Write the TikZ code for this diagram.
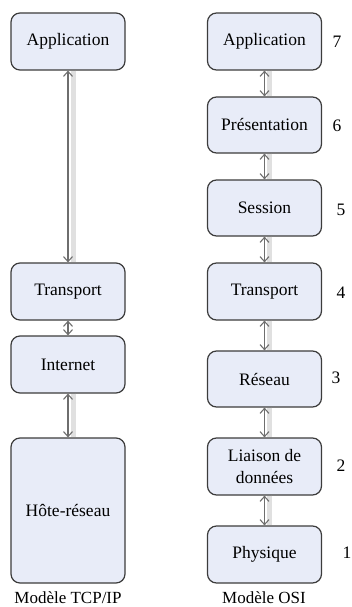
\documentclass[tikz,border=0pt]{standalone}
\usepackage{fontspec}
\setmainfont{Liberation Serif}
\usetikzlibrary{arrows.meta}
\definecolor{boxfill}{HTML}{E8ECF8}
\definecolor{boxline}{HTML}{3C3C3C}
\definecolor{linkgray}{HTML}{6E6E6E}
\definecolor{shadowgray}{HTML}{E0E0E0}
\begin{document}
\begin{tikzpicture}[x=1pt,y=-1pt,
  layer/.style={draw=boxline,line width=1.2pt,fill=boxfill,rounded corners=9pt,
    minimum width=114pt,minimum height=57pt,inner sep=2pt,align=center,
    font=\fontsize{17.5}{22}\selectfont},
  link/.style={draw=linkgray,line width=1.1pt,
    {Straight Barb[length=5pt,width=9pt]}-{Straight Barb[length=5pt,width=9pt]}},
  linkshadow/.style={draw=shadowgray,line width=5pt},
  num/.style={font=\fontsize{17.5}{20}\selectfont},
  caption/.style={font=\fontsize{17}{20}\selectfont}]
\useasboundingbox (0,0) rectangle (352,607);

% TCP/IP model
\node[layer] (tapp) at (68,41.5) {Application};
\node[layer] (ttra) at (68,291.5) {Transport};
\node[layer] (tint) at (68,364.5) {Internet};
\node[layer,minimum height=145pt] (thote) at (68,510.5) {Hôte-réseau};

% OSI model
\node[layer] (oapp) at (264.5,41.5) {Application};
\node[layer,minimum height=56pt] (opre) at (264.5,125) {Présentation};
\node[layer,minimum height=56pt] (oses) at (264.5,208) {Session};
\node[layer] (otra) at (264.5,291.5) {Transport};
\node[layer,minimum height=56pt] (ores) at (264.5,379) {Réseau};
\node[layer] (olia) at (264.5,466.5) {Liaison de\\données};
\node[layer] (ophy) at (264.5,554.5) {Physique};

% layer numbers
\node[num] (n7) at (337,42) {7};
\node[num] (n6) at (337,126) {6};
\node[num] (n5) at (341,210) {5};
\node[num] (n4) at (341,293) {4};
\node[num] (n3) at (336,378) {3};
\node[num] (n2) at (341,466) {2};
\node[num] (n1) at (347,553) {1};

% captions
\node[caption] (ctcp) at (68,598) {Modèle TCP/IP};
\node[caption] (cosi) at (264,598) {Modèle OSI};

% shadows under the links
\begin{scope}[on background layer/.try]
\foreach \a/\b in {tapp/ttra,tint/thote,oapp/opre,opre/oses,oses/otra,otra/ores,ores/olia,olia/ophy}{
  \draw[linkshadow] ([xshift=5pt]\a.south) -- ([xshift=5pt]\b.north);
}
\end{scope}

% links between adjacent layers
\foreach \a/\b in {tapp/ttra,ttra/tint,tint/thote,oapp/opre,opre/oses,oses/otra,otra/ores,ores/olia,olia/ophy}{
  \draw[link] (\a.south) -- (\b.north);
}
\end{tikzpicture}
\end{document}
